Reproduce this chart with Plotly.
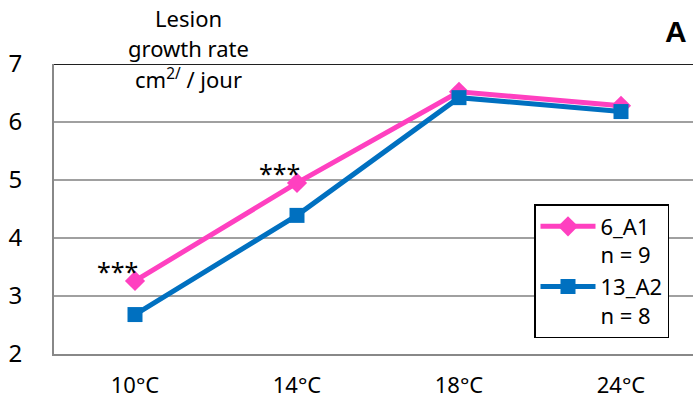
import plotly.graph_objects as go

# Lesion growth rate per temperature for two isolates
temperatures = ["10°C", "14°C", "18°C", "24°C"]
rate_6_A1 = [3.26, 4.95, 6.52, 6.28]
rate_13_A2 = [2.68, 4.39, 6.42, 6.18]
legend_names = ["6_A1<br>n = 9", "13_A2<br>n = 8"]
signif_labels = ["***", "***", "", ""]
y_ticks = [2, 3, 4, 5, 6, 7]

PINK = "#FF40C0"
BLUE = "#0070C0"
FONT = "Noto Sans"

W, H = 693, 400
L, R, T, B = 54, 0, 64, 46

fig = go.Figure()
fig.add_trace(go.Scatter(
    x=temperatures, y=rate_6_A1, name=legend_names[0], mode="lines+markers",
    line=dict(color=PINK, width=5),
    marker=dict(symbol="diamond", size=15.5, color=PINK),
))
fig.add_trace(go.Scatter(
    x=temperatures, y=rate_13_A2, name=legend_names[1], mode="lines+markers",
    line=dict(color=BLUE, width=5),
    marker=dict(symbol="square", size=15, color=BLUE),
))

# significance stars above the 6_A1 points
for cat, val, lab in zip(temperatures, rate_6_A1, signif_labels):
    if lab:
        fig.add_annotation(x=cat, y=val, text=lab, showarrow=False,
                           xanchor="center", yanchor="bottom",
                           xshift=-18, yshift=-9,
                           font=dict(family=FONT, size=25, color="black"))

# dark top border at the axis maximum
fig.add_shape(type="line", xref="paper", yref="y", x0=0, x1=1,
              y0=y_ticks[-1], y1=y_ticks[-1],
              line=dict(color="#202020", width=2))

# axis title stacked over the plot
title_lines = ["Lesion", "growth rate", "cm<sup>2/</sup> / jour"]
for i, line in enumerate(title_lines):
    ypx = 18 + 30 * i
    fig.add_annotation(xref="paper", yref="paper",
                       x=(188 - L) / (W - L - R), y=(H - B - ypx) / (H - T - B),
                       text=line, showarrow=False, xanchor="center", yanchor="middle",
                       font=dict(family=FONT, size=22, color="black"))

fig.add_annotation(xref="paper", yref="paper",
                   x=(676 - L) / (W - L - R), y=(H - B - 31) / (H - T - B),
                   text="<b>A</b>", showarrow=False, xanchor="center", yanchor="middle",
                   font=dict(family="Liberation Sans", size=30, color="black"))

fig.update_layout(
    width=W, height=H,
    margin=dict(l=L, r=R, t=T, b=B),
    paper_bgcolor="white", plot_bgcolor="white",
    font=dict(family=FONT, size=22, color="black"),
    showlegend=True,
    legend=dict(
        x=(534 - L) / (W - L - R), y=(H - B - 204) / (H - T - B),
        xanchor="left", yanchor="top",
        bgcolor="white", bordercolor="black", borderwidth=1.5,
        font=dict(family=FONT, size=22, color="black"),
        valign="top", tracegroupgap=4, itemwidth=55,
    ),
    xaxis=dict(
        range=[-0.5, 3.5 - 9 / 162], showgrid=False, automargin=False,
        showline=True, linecolor="#888888", linewidth=2,
        ticks="", ticklabelstandoff=11,
        tickfont=dict(family=FONT, size=22),
    ),
    yaxis=dict(
        range=[2, 7], tickvals=y_ticks, showgrid=True, automargin=False,
        gridcolor="#A0A0A0", gridwidth=1.5,
        showline=True, linecolor="#888888", linewidth=2,
        ticks="", ticklabelstandoff=25, zeroline=False,
        tickfont=dict(family=FONT, size=24),
    ),
)

fig.write_html("out.html")
